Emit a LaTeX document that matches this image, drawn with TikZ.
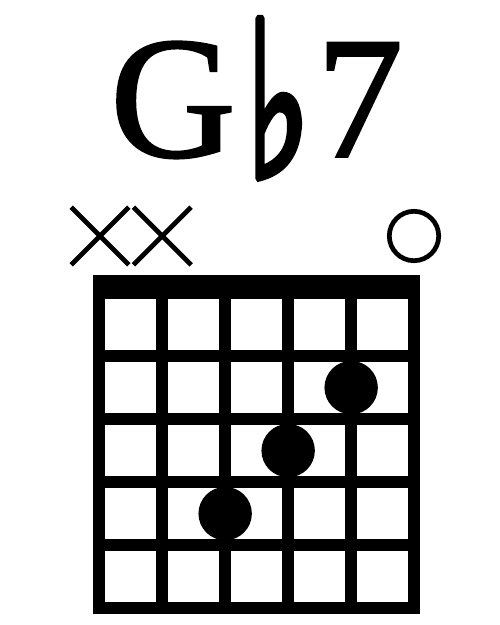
\documentclass[tikz,border=0pt]{standalone}
\usepackage{fontspec}
\usepackage{graphicx}
\setmainfont{Liberation Serif}
\newfontfamily\titlefont[FakeBold=1.3]{Liberation Serif}
\newfontfamily\symfont[FakeBold=4]{DejaVu Sans Bold}
\usetikzlibrary{shapes.misc}
\begin{document}
\begin{tikzpicture}[x=1pt,y=-1pt,
  gridline/.style={line width=11.7pt,line cap=butt},
  fingerdot/.style={circle,fill=black,inner sep=0pt,minimum size=53.4pt},
  mutedmark/.style={cross out,draw=black,line width=4.7pt,inner sep=0pt,minimum size=53pt},
  openmark/.style={circle,draw=black,line width=4.7pt,inner sep=0pt,minimum size=49.4pt},
  titletext/.style={inner sep=0pt,font=\titlefont\fontsize{174}{174}\selectfont}]
\useasboundingbox (0,0) rectangle (500,625);
% title
\node[titletext,anchor=base west] (tg) at (110,156.7) {G};
\node[inner sep=0pt,anchor=north west] (tflat) at (246,19)
  {\resizebox*{64pt}{158pt}{\symfont ♭}};
\node[titletext,anchor=base west] (t7) at (316,156.7) {7};
% nut
\fill (93.3,275) rectangle (420,299);
% strings
\foreach \i in {0,...,5}
  \draw[gridline] (99.15+63*\i,275) -- (99.15+63*\i,614);
% frets
\foreach \j in {1,...,5}
  \draw[gridline] (93.3,293.15+63*\j) -- (420,293.15+63*\j);
% markers
\node[mutedmark] (x1) at (100,236) {};
\node[mutedmark] (x2) at (162.3,236) {};
\node[openmark] (o6) at (414,236) {};
% dots
\node[fingerdot] (d5) at (351.15,387.6) {};
\node[fingerdot] (d4) at (288.15,450.6) {};
\node[fingerdot] (d3) at (225.15,513.6) {};
\end{tikzpicture}
\end{document}
